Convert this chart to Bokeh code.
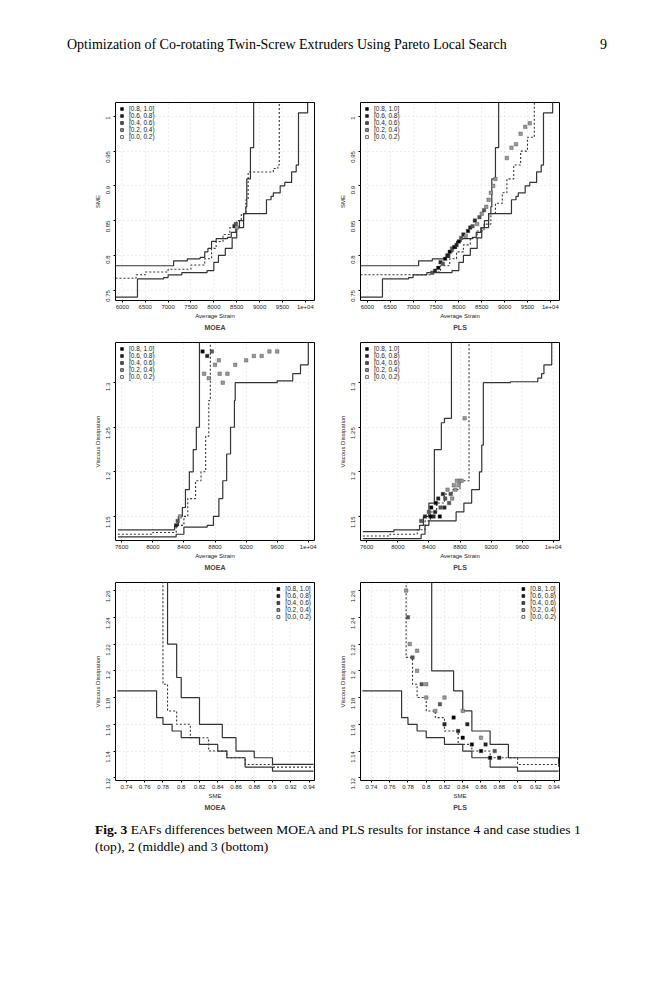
import math
from bokeh.plotting import figure
from bokeh.layouts import column, row, gridplot
from bokeh.models import Div, Spacer, FixedTicker, Title, Legend, LegendItem, Range1d, ColumnDataSource
from bokeh.embed import file_html
from bokeh.resources import INLINE

# ---------------- data ----------------
legend_labels = ["[0.8, 1.0]", "[0.6, 0.8)", "[0.4, 0.6)", "[0.2, 0.4)", "[0.0, 0.2)"]
legend_fills = ["#000000", "#222222", "#555555", "#999999", "#ffffff"]

# Case 1 (SME vs Average Strain)
c1_best_x = [5850, 7120, 7420, 7700, 7800, 7870, 7950, 8050, 8300, 8380, 8480, 8560, 8650, 8700, 8720, 8800, 8870, 8870]
c1_best_y = [0.785, 0.792, 0.795, 0.797, 0.805, 0.81, 0.82, 0.824, 0.826, 0.833, 0.84, 0.85, 0.86, 0.87, 0.91, 0.955, 0.97, 1.03]
c1_worst_x = [5850, 6330, 6900, 7000, 7300, 7850, 8000, 8100, 8250, 8400, 8500, 8650, 9150, 9250, 9300, 9450, 9550, 9700, 9800, 9850, 10050, 10050]
c1_worst_y = [0.74, 0.766, 0.768, 0.772, 0.775, 0.778, 0.79, 0.80, 0.81, 0.825, 0.84, 0.86, 0.88, 0.885, 0.89, 0.90, 0.905, 0.92, 0.93, 1.005, 1.02, 1.03]
c1_moea_med_x = [5850, 6300, 6500, 7000, 7500, 7800, 7950, 8050, 8200, 8350, 8500, 8600, 8700, 8750, 9300, 9400, 9430, 9430]
c1_moea_med_y = [0.767, 0.772, 0.776, 0.780, 0.786, 0.795, 0.81, 0.82, 0.83, 0.84, 0.85, 0.86, 0.88, 0.92, 0.925, 0.93, 0.94, 1.03]
c1_pls_med_x = [5850, 7380, 7600, 7800, 7950, 8100, 8250, 8400, 8550, 8700, 8800, 8950, 9050, 9200, 9350, 9500, 9650, 9650]
c1_pls_med_y = [0.772, 0.776, 0.785, 0.795, 0.805, 0.815, 0.825, 0.835, 0.845, 0.86, 0.875, 0.89, 0.91, 0.93, 0.95, 0.97, 0.99, 1.03]
c1_moea_pts_x = [8450, 8480, 8500]
c1_moea_pts_y = [0.842, 0.845, 0.84]
c1_moea_pts_c = ["#222222", "#555555", "#999999"]
c1_pls_pts_x = [7420, 7480, 7550, 7600, 7650, 7700, 7750, 7800, 7850, 7900, 7950, 8000, 8050, 8100, 8150, 8200, 8250, 8300, 8350, 8400, 8450, 8500, 8550, 8600, 8650, 8700, 8750, 8800, 9050, 9150, 9250, 9350, 9450, 9550]
c1_pls_pts_y = [0.775, 0.778, 0.782, 0.79, 0.788, 0.795, 0.80, 0.805, 0.81, 0.812, 0.815, 0.82, 0.825, 0.83, 0.828, 0.835, 0.84, 0.842, 0.85, 0.845, 0.855, 0.86, 0.865, 0.87, 0.88, 0.89, 0.90, 0.91, 0.94, 0.955, 0.96, 0.975, 0.985, 0.99]
c1_pls_pts_c = ["#555555", "#222222", "#000000", "#222222", "#555555", "#000000", "#222222", "#000000", "#555555", "#000000", "#222222", "#000000", "#555555", "#222222", "#999999", "#000000", "#222222", "#555555", "#222222", "#999999", "#555555", "#999999", "#555555", "#999999", "#999999", "#999999", "#999999", "#999999", "#999999", "#999999", "#999999", "#999999", "#999999", "#999999"]

# Case 2 (Viscous Dissipation vs Average Strain)
c2_moea_best_x = [7550, 8280, 8330, 8380, 8420, 8470, 8520, 8560, 8600, 8600]
c2_moea_best_y = [1.135, 1.14, 1.15, 1.16, 1.18, 1.20, 1.225, 1.25, 1.26, 1.35]
c2_moea_med_x = [7550, 8000, 8300, 8400, 8450, 8550, 8620, 8680, 8720, 8740, 8740]
c2_moea_med_y = [1.13, 1.132, 1.14, 1.15, 1.17, 1.19, 1.20, 1.24, 1.28, 1.30, 1.35]
c2_moea_worst_x = [7550, 8300, 8400, 8700, 8780, 8850, 8900, 8950, 9000, 9050, 9060, 9600, 9800, 9900, 10000, 10000]
c2_moea_worst_y = [1.127, 1.13, 1.138, 1.14, 1.15, 1.17, 1.19, 1.22, 1.25, 1.28, 1.30, 1.302, 1.31, 1.32, 1.33, 1.35]
c2_moea_pts_x = [8300, 8320, 8350, 8640, 8700, 8760, 8800, 8860, 8900, 8960, 9060, 9200, 9300, 9400, 9500, 9600, 8660, 8720, 8850]
c2_moea_pts_y = [1.14, 1.145, 1.15, 1.335, 1.33, 1.335, 1.32, 1.31, 1.30, 1.31, 1.32, 1.325, 1.33, 1.33, 1.335, 1.335, 1.31, 1.305, 1.325]
c2_moea_pts_c = ["#222222", "#555555", "#999999", "#000000", "#222222", "#555555", "#999999", "#999999", "#999999", "#999999", "#999999", "#999999", "#999999", "#999999", "#999999", "#999999", "#999999", "#999999", "#999999"]
c2_pls_best_x = [7550, 7950, 8280, 8330, 8400, 8470, 8560, 8600, 8690, 8690]
c2_pls_best_y = [1.133, 1.135, 1.14, 1.15, 1.165, 1.225, 1.255, 1.26, 1.30, 1.35]
c2_pls_med_x = [7550, 7900, 8250, 8350, 8420, 8500, 8600, 8700, 8800, 8916, 8916]
c2_pls_med_y = [1.128, 1.13, 1.135, 1.145, 1.155, 1.165, 1.175, 1.18, 1.19, 1.26, 1.35]
c2_pls_worst_x = [7550, 8300, 8350, 8400, 8420, 8750, 8850, 8950, 9050, 9080, 9100, 9450, 9800, 9850, 9880, 9980, 9980]
c2_pls_worst_y = [1.125, 1.13, 1.14, 1.145, 1.145, 1.155, 1.165, 1.18, 1.20, 1.23, 1.30, 1.301, 1.305, 1.31, 1.32, 1.33, 1.35]
c2_pls_pts_x = [8300, 8350, 8400, 8430, 8460, 8490, 8520, 8550, 8580, 8610, 8640, 8680, 8720, 8760, 8800, 8420, 8480, 8540, 8600, 8660, 8700, 8740, 8780, 8820, 8860]
c2_pls_pts_y = [1.145, 1.15, 1.155, 1.16, 1.15, 1.165, 1.17, 1.16, 1.175, 1.17, 1.18, 1.175, 1.185, 1.19, 1.19, 1.15, 1.155, 1.15, 1.16, 1.165, 1.17, 1.18, 1.185, 1.19, 1.26]
c2_pls_pts_c = ["#555555", "#222222", "#555555", "#000000", "#222222", "#000000", "#222222", "#555555", "#222222", "#555555", "#999999", "#555555", "#999999", "#999999", "#999999", "#000000", "#222222", "#000000", "#222222", "#555555", "#999999", "#999999", "#999999", "#999999", "#999999"]

# Case 3 (Viscous Dissipation vs SME)
c3_best_x = [0.73, 0.773, 0.78, 0.79, 0.80, 0.82, 0.84, 0.85, 0.87, 0.90, 0.945]
c3_best_y = [1.185, 1.165, 1.16, 1.155, 1.15, 1.145, 1.14, 1.135, 1.128, 1.125, 1.125]
c3_moea_med_x = [0.78, 0.78, 0.785, 0.795, 0.81, 0.83, 0.85, 0.87, 0.90, 0.945]
c3_moea_med_y = [1.27, 1.19, 1.17, 1.16, 1.15, 1.14, 1.135, 1.13, 1.128, 1.128]
c3_moea_worst_x = [0.785, 0.785, 0.795, 0.80, 0.82, 0.845, 0.86, 0.88, 0.90, 0.945]
c3_moea_worst_y = [1.27, 1.22, 1.195, 1.18, 1.16, 1.15, 1.14, 1.135, 1.13, 1.13]
c3_pls_med_x = [0.778, 0.778, 0.785, 0.79, 0.80, 0.81, 0.82, 0.835, 0.85, 0.87, 0.90, 0.945]
c3_pls_med_y = [1.27, 1.21, 1.19, 1.18, 1.17, 1.165, 1.155, 1.145, 1.14, 1.135, 1.13, 1.128]
c3_pls_worst_x = [0.806, 0.806, 0.83, 0.84, 0.85, 0.87, 0.89, 0.945]
c3_pls_worst_y = [1.27, 1.20, 1.185, 1.17, 1.155, 1.145, 1.135, 1.13]
c3_pls_pts_x = [0.778, 0.78, 0.782, 0.785, 0.79, 0.795, 0.80, 0.81, 0.815, 0.82, 0.83, 0.835, 0.84, 0.845, 0.85, 0.86, 0.865, 0.87, 0.875, 0.88, 0.79, 0.80, 0.82, 0.84, 0.86]
c3_pls_pts_y = [1.26, 1.24, 1.22, 1.21, 1.20, 1.19, 1.18, 1.17, 1.175, 1.16, 1.165, 1.155, 1.15, 1.16, 1.145, 1.14, 1.145, 1.135, 1.14, 1.135, 1.215, 1.19, 1.18, 1.17, 1.15]
c3_pls_pts_c = ["#999999", "#555555", "#999999", "#555555", "#999999", "#555555", "#999999", "#999999", "#555555", "#222222", "#000000", "#222222", "#000000", "#222222", "#000000", "#000000", "#222222", "#000000", "#555555", "#222222", "#999999", "#999999", "#999999", "#999999", "#999999"]

FONT = "Liberation Sans"


def panel(xr, yr, xt, yt, xlab, ylab, title, lines, pts, leg_loc, xover=None, yover=None):
    p = figure(width=245, height=240, output_backend="svg", toolbar_location=None,
               x_range=Range1d(*xr), y_range=Range1d(*yr),
               min_border_left=38, min_border_right=8, min_border_top=12, min_border_bottom=0)
    p.outline_line_color = "black"
    p.outline_line_width = 1
    for ax in (p.xaxis[0], p.yaxis[0]):
        ax.major_label_text_font = FONT
        ax.major_label_text_font_size = "6px"
        ax.major_label_text_color = "#222222"
        ax.axis_label_text_font = FONT
        ax.axis_label_text_font_size = "6px"
        ax.axis_label_text_font_style = "normal"
        ax.axis_label_text_color = "#222222"
        ax.minor_tick_line_color = None
        ax.axis_line_color = None
        ax.major_tick_in = 0
        ax.major_tick_out = 2
        ax.major_label_standoff = 2
        ax.axis_label_standoff = 1
    p.yaxis.major_label_standoff = 5
    p.xaxis.ticker = FixedTicker(ticks=xt)
    p.yaxis.ticker = FixedTicker(ticks=yt)
    if xover:
        p.xaxis.major_label_overrides = xover
    if yover:
        p.yaxis.major_label_overrides = yover
    p.yaxis.major_label_orientation = math.pi / 2
    p.xaxis.axis_label = xlab
    p.yaxis.axis_label = ylab
    p.grid.grid_line_color = "#dddddd"
    p.grid.grid_line_dash = "1 3"
    for (x, y, dash) in lines:
        p.step(x, y, mode="after", line_color="#333333", line_width=1.2 if dash == "solid" else 1.1,
               line_dash=dash)
    for (x, y, c) in pts:
        p.scatter(x, y, marker="square", size=3.5, fill_color=c, line_color="#444444", line_width=0.4)
    # legend proxy renderer: NaN positions, colours taken from legend_fills by index
    src = ColumnDataSource(dict(x=[float("nan")] * len(legend_fills), y=[float("nan")] * len(legend_fills),
                                c=legend_fills))
    r = p.scatter("x", "y", source=src, marker="square", size=6, fill_color="c", line_color="black",
                  line_width=0.6)
    items = [LegendItem(label=lab, renderers=[r], index=i) for i, lab in enumerate(legend_labels)]
    leg = Legend(items=items, location=leg_loc, label_text_font=FONT, label_text_font_size="6.5px",
                 label_text_color="#222222",
                 glyph_width=7, glyph_height=7, label_height=7, spacing=0, padding=3, margin=3,
                 border_line_color=None, background_fill_alpha=0, label_standoff=4)
    p.add_layout(leg)
    t = Title(text=title, align="center", text_font=FONT, text_font_size="7px", text_font_style="bold",
              standoff=0, offset=0)
    p.add_layout(t, "below")
    return p


x1t = [6000, 6500, 7000, 7500, 8000, 8500, 9000, 9500, 10000]
y1t = [0.75, 0.8, 0.85, 0.9, 0.95, 1.0]
x1o = {10000: "1e+04"}
y1o = {0.75: "0.75", 0.8: "0.8", 0.85: "0.85", 0.9: "0.9", 0.95: "0.95", 1.0: "1"}
x2t = [7600, 8000, 8400, 8800, 9200, 9600, 10000]
y2t = [1.15, 1.2, 1.25, 1.3]
y2o = {1.15: "1.15", 1.2: "1.2", 1.25: "1.25", 1.3: "1.3"}
x3t = [0.74, 0.76, 0.78, 0.8, 0.82, 0.84, 0.86, 0.88, 0.9, 0.92, 0.94]
x3o = {0.74: "0.74", 0.76: "0.76", 0.78: "0.78", 0.8: "0.8", 0.82: "0.82", 0.84: "0.84", 0.86: "0.86", 0.88: "0.88", 0.9: "0.9", 0.92: "0.92", 0.94: "0.94"}
y3t = [1.12, 1.14, 1.16, 1.18, 1.2, 1.22, 1.24, 1.26]
y3o = {1.12: "1.12", 1.14: "1.14", 1.16: "1.16", 1.18: "1.18", 1.2: "1.2", 1.22: "1.22", 1.24: "1.24", 1.26: "1.26"}

xr1, yr1 = (5850, 10200), (0.735, 1.02)
xr2, yr2 = (7520, 10080), (1.123, 1.345)
xr3, yr3 = (0.728, 0.946), (1.118, 1.266)

p1 = panel(xr1, yr1, x1t, y1t, "Average Strain", "SME", "MOEA",
           [(c1_best_x, c1_best_y, "solid"), (c1_moea_med_x, c1_moea_med_y, "2 2"), (c1_worst_x, c1_worst_y, "solid")],
           [(c1_moea_pts_x, c1_moea_pts_y, c1_moea_pts_c)], "top_left", x1o, y1o)
p2 = panel(xr1, yr1, x1t, y1t, "Average Strain", "SME", "PLS",
           [(c1_best_x, c1_best_y, "solid"), (c1_pls_med_x, c1_pls_med_y, "2 2"), (c1_worst_x, c1_worst_y, "solid")],
           [(c1_pls_pts_x, c1_pls_pts_y, c1_pls_pts_c)], "top_left", x1o, y1o)
p3 = panel(xr2, yr2, x2t, y2t, "Average Strain", "Viscous Dissipation", "MOEA",
           [(c2_moea_best_x, c2_moea_best_y, "solid"), (c2_moea_med_x, c2_moea_med_y, "2 2"), (c2_moea_worst_x, c2_moea_worst_y, "solid")],
           [(c2_moea_pts_x, c2_moea_pts_y, c2_moea_pts_c)], "top_left", x1o, y2o)
p4 = panel(xr2, yr2, x2t, y2t, "Average Strain", "Viscous Dissipation", "PLS",
           [(c2_pls_best_x, c2_pls_best_y, "solid"), (c2_pls_med_x, c2_pls_med_y, "2 2"), (c2_pls_worst_x, c2_pls_worst_y, "solid")],
           [(c2_pls_pts_x, c2_pls_pts_y, c2_pls_pts_c)], "top_left", x1o, y2o)
p5 = panel(xr3, yr3, x3t, y3t, "SME", "Viscous Dissipation", "MOEA",
           [(c3_best_x, c3_best_y, "solid"), (c3_moea_med_x, c3_moea_med_y, "2 2"), (c3_moea_worst_x, c3_moea_worst_y, "solid")],
           [], "top_right", x3o, y3o)
p6 = panel(xr3, yr3, x3t, y3t, "SME", "Viscous Dissipation", "PLS",
           [(c3_best_x, c3_best_y, "solid"), (c3_pls_med_x, c3_pls_med_y, "2 2"), (c3_pls_worst_x, c3_pls_worst_y, "solid")],
           [(c3_pls_pts_x, c3_pls_pts_y, c3_pls_pts_c)], "top_right", x3o, y3o)

grid = gridplot([[p1, p2], [p3, p4], [p5, p6]], toolbar_location=None)

header = Div(text='<div style="position:relative;width:540px;font-family:\'Liberation Serif\';font-size:14px;">'
                  'Optimization of Co-rotating Twin-Screw Extruders Using Pareto Local Search'
                  '<span style="position:absolute;right:0;">9</span></div>',
             width=620, height=80, styles={"padding-left": "62px", "padding-top": "30px"})
caption = Div(text='<div style="font-family:\'Liberation Serif\';font-size:13.5px;line-height:17px;width:500px;">'
                   '<b>Fig. 3</b> EAFs differences between MOEA and PLS results for instance 4 and case studies 1 '
                   '(top), 2 (middle) and 3 (bottom)</div>',
              width=620, height=60, styles={"padding-left": "90px", "padding-top": "6px"})

layout = column(header, row(Spacer(width=77), grid), caption)
open("out.html", "w").write(file_html(layout, INLINE))
